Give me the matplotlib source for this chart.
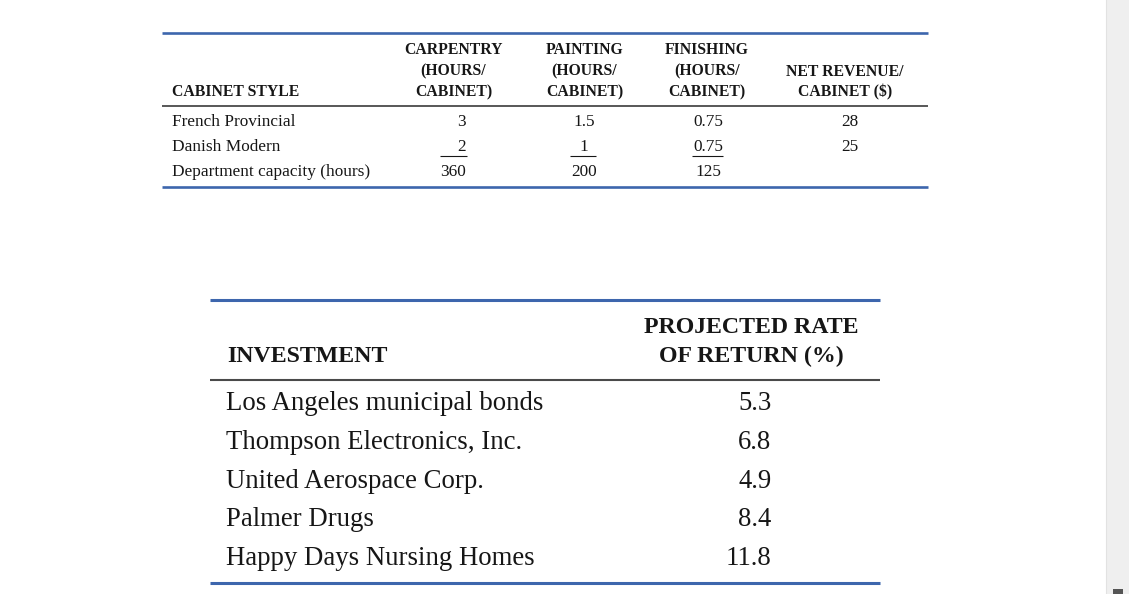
import matplotlib
matplotlib.use('Agg')
import matplotlib.pyplot as plt
from matplotlib.patches import Rectangle

# cabinet table data
cab_headers = [['CARPENTRY', '(HOURS/', 'CABINET)'],
               ['PAINTING', '(HOURS/', 'CABINET)'],
               ['FINISHING', '(HOURS/', 'CABINET)'],
               ['NET REVENUE/', 'CABINET ($)']]
cab_rows = ['French Provincial', 'Danish Modern', 'Department capacity (hours)']
carpentry = ['3', '2', '360']
painting = ['1.5', '1', '200']
finishing = ['0.75', '0.75', '125']
revenue = ['28', '25', '']

# investment table data
investments = ['Los Angeles municipal bonds', 'Thompson Electronics, Inc.',
               'United Aerospace Corp.', 'Palmer Drugs', 'Happy Days Nursing Homes']
returns = ['5.3', '6.8', '4.9', '8.4', '11.8']

W, H = 1129, 594
fig = plt.figure(figsize=(W / 100, H / 100), dpi=100)
fig.patch.set_facecolor('white')
ax = fig.add_axes([0, 0, 1, 1])
ax.set_xlim(0, W)
ax.set_ylim(H, 0)
ax.axis('off')

serif = 'Liberation Serif'
blue = '#3d66ad'
sep = '#4a4a4a'
ink = '#161616'

# ---- top table ----
x0, x1 = 162, 928
ax.plot([x0, x1], [32.5, 32.5], color=blue, lw=1.9, solid_capstyle='butt')
ax.plot([x0, x1], [105.5, 105.5], color=sep, lw=1.3, solid_capstyle='butt')
ax.plot([x0, x1], [187, 187], color=blue, lw=1.9, solid_capstyle='butt')

hdr_size = 11.3
body_size = 12.4
ax.text(172, 96.5, 'CABINET STYLE', fontsize=hdr_size, fontweight='bold', family=serif,
        color=ink, ha='left', va='baseline')
col_x = [453.5, 584.5, 707, 845]
for cx, lines in zip(col_x, cab_headers):
    start = 96.5 - 21 * (len(lines) - 1)
    for i, ln in enumerate(lines):
        ax.text(cx, start + 21 * i, ln, fontsize=hdr_size, fontweight='bold', family=serif,
                color=ink, ha='center', va='baseline')

row_y = [125.5, 151, 175.5]
cols = [carpentry, painting, finishing, revenue]
col_pos = [(466, 'right'), (584, 'center'), (708, 'center'), (850, 'center')]
for r, name in enumerate(cab_rows):
    ax.text(172, row_y[r], name, fontsize=body_size, family=serif, color=ink,
            ha='left', va='baseline')
    for (cx, ha), col in zip(col_pos, cols):
        ax.text(cx, row_y[r], col[r], fontsize=body_size, family=serif, color=ink,
                ha=ha, va='baseline')

# underlines above the capacity row
for xa, xb in [(440, 467), (570, 596), (692, 723)]:
    ax.plot([xa, xb], [155.5, 155.5], color=ink, lw=0.8, solid_capstyle='butt')

# ---- bottom table ----
b0, b1 = 210, 880
ax.plot([b0, b1], [299.5, 299.5], color=blue, lw=2.2, solid_capstyle='butt')
ax.plot([b0, b1], [379.5, 379.5], color=sep, lw=1.5, solid_capstyle='butt')
ax.plot([b0, b1], [582.5, 582.5], color=blue, lw=2.2, solid_capstyle='butt')

big_hdr = 17.2
big_body = 19.3
ax.text(227, 362.5, 'INVESTMENT', fontsize=big_hdr, fontweight='bold', family=serif,
        color=ink, ha='left', va='baseline')
ax.text(751.5, 333, 'PROJECTED RATE', fontsize=big_hdr, fontweight='bold', family=serif,
        color=ink, ha='center', va='baseline')
ax.text(751.5, 362.5, 'OF RETURN (%)', fontsize=big_hdr, fontweight='bold', family=serif,
        color=ink, ha='center', va='baseline')

inv_y = [410, 448.75, 487.5, 526.25, 565]
for name, val, y in zip(investments, returns, inv_y):
    ax.text(226, y, name, fontsize=big_body, family=serif, color=ink, ha='left', va='baseline')
    ax.text(771.5, y, val, fontsize=big_body, family=serif, color=ink, ha='right', va='baseline')

# side strip on the right
ax.add_patch(Rectangle((1106, 0), 23, H, facecolor='#efefef', edgecolor='none'))
ax.plot([1106, 1106], [0, H], color='#e2e2e2', lw=0.8)
ax.add_patch(Rectangle((1113, 589), 10, 5, facecolor='#555555', edgecolor='none'))

fig.savefig('out.png', dpi=100)
